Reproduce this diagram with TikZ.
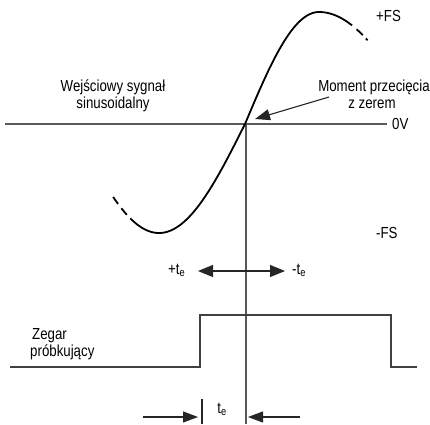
\documentclass[tikz,border=0pt]{standalone}
\usepackage{fontspec}
\setmainfont{Liberation Sans}[FakeStretch=0.83]
\usetikzlibrary{arrows.meta}
\begin{document}
\begin{tikzpicture}[x=1pt,y=-1pt,
  lbl/.style={font=\fontsize{16}{17}\selectfont, inner sep=0pt},
  axis/.style={line width=1.1pt, draw=black!65},
  sig/.style={line width=1.8pt, draw=black},
  clk/.style={line width=1.2pt, draw=black!75},
  thin/.style={line width=1.1pt, draw=black!85},
  tri/.style={-{Triangle[length=15pt,width=11pt]}},
  tritwo/.style={{Triangle[length=15pt,width=12pt]}-{Triangle[length=15pt,width=12pt]}},
]
\useasboundingbox (0,0) rectangle (430,424);

% axes
\coordinate (hl) at (5,124);
\coordinate (hr) at (387,124);
\coordinate (vt) at (246,124);
\coordinate (vb) at (246,424);
\draw[axis] (hl) -- (hr);
\draw[axis] (vt) -- (vb);

% sinusoid (solid part)
\draw[sig, line join=round]
  plot[domain=30:0, samples=20, variable=\t] ({159-86*\t/90},{233-109*(1-cos(\t))})
  -- plot[domain=0:90, samples=40, variable=\t] ({159+86*\t/90},{124+109*cos(\t)})
  -- plot[domain=0:90, samples=40, variable=\t] ({245+74*\t/90},{124-112*sin(\t)})
  -- plot[domain=0:28, samples=20, variable=\t] ({319+105*\t/90},{12+112*(1-cos(\t))});
% dashed tails
\draw[sig, dash pattern=on 8.5pt off 5.5pt on 8.5pt off 20pt]
  plot[domain=48:30, samples=20, variable=\t] ({159-86*\t/90},{233-109*(1-cos(\t))});
\draw[sig, dash pattern=on 8.5pt off 4.5pt on 2.5pt off 6pt, dash phase=15pt]
  plot[domain=28:43, samples=20, variable=\t] ({319+105*\t/90},{12+112*(1-cos(\t))});

% labels
\node[lbl, anchor=base west] (pfs) at (376,21) {+FS};
\node[lbl, anchor=base west] (mfs) at (376,238) {-FS};
\node[lbl, anchor=base west] (ov) at (392,129) {0V};
\node[lbl, anchor=base] (in1) at (113,91) {Wejściowy sygnał};
\node[lbl, anchor=base] (in2) at (113,108) {sinusoidalny};
\node[lbl, anchor=base] (mo1) at (374,91) {Moment przecięcia};
\node[lbl, anchor=base] (mo2) at (372,108) {z zerem};

% pointer to zero crossing
\coordinate (ps) at (329,97);
\coordinate (pe) at (255,119);
\draw[thin, tri] (ps) -- (pe);

% +te / -te
\node[lbl, anchor=base west] (pte) at (168,274) {+t\textsubscript{e}};
\node[lbl, anchor=base west] (mte) at (292,274) {-t\textsubscript{e}};
\coordinate (dl) at (198,271);
\coordinate (dr) at (285,271);
\draw[thin, tritwo] (dl) -- (dr);

% sampling clock
\node[lbl, anchor=base west] (zg1) at (32,339) {Zegar};
\node[lbl, anchor=base west] (zg2) at (30,356) {próbkujący};
\coordinate (c0) at (10,367);
\coordinate (c1) at (200,367);
\coordinate (c2) at (200,315);
\coordinate (c3) at (391,315);
\coordinate (c4) at (391,367);
\coordinate (c5) at (417,367);
\draw[clk] (c0) -- (c1) -- (c2) -- (c3) -- (c4) -- (c5);

% te aperture
\coordinate (al) at (143,417);
\coordinate (alt) at (198,417);
\coordinate (ar) at (300,417);
\coordinate (art) at (248,417);
\coordinate (tk1) at (202,399);
\coordinate (tk2) at (202,424);
\draw[thin, tri] (al) -- (alt);
\draw[thin, tri] (ar) -- (art);
\draw[thin] (tk1) -- (tk2);
\node[lbl, anchor=base] (te) at (222,413) {t\textsubscript{e}};
\end{tikzpicture}
\end{document}
